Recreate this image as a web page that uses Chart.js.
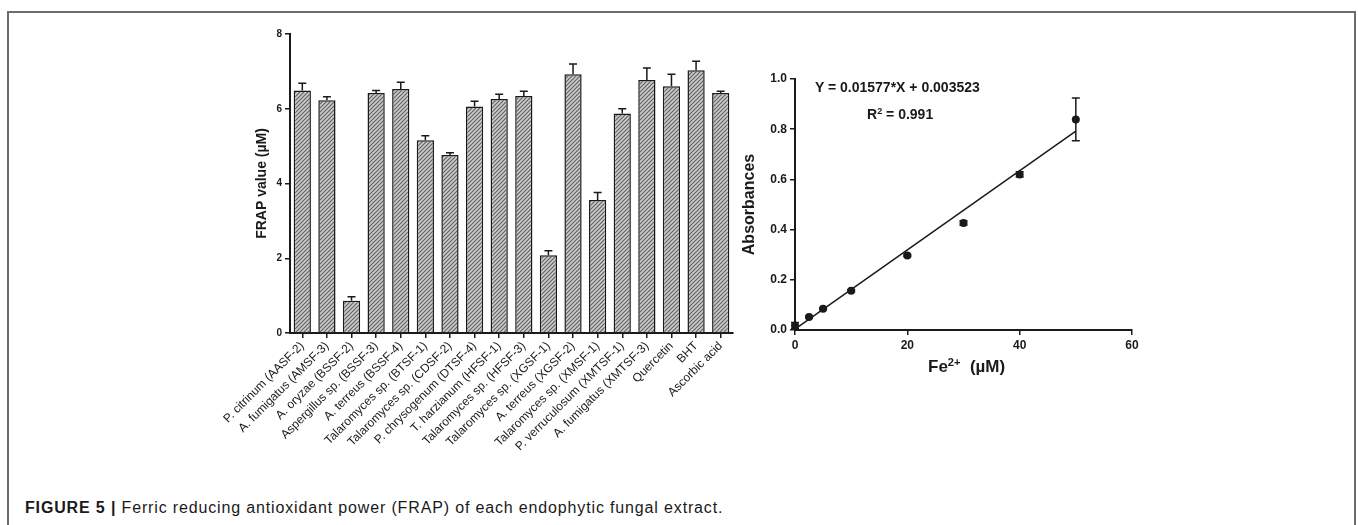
<!DOCTYPE html>
<html>
<head>
<meta charset="utf-8">
<script src="https://cdn.jsdelivr.net/npm/chart.js@4.4.1/dist/chart.umd.min.js"></script>
<style>
	body {
		margin: 0;
		width: 1358px;
		height: 525px;
		overflow: hidden;
		position: relative;
		background: #fff;
		font-family: 'Liberation Sans', Arial, sans-serif;
		color: #1a1a1a;
	}
	#frame {
		position: absolute;
		left: 7px;
		top: 11px;
		width: 1345px;
		height: 600px;
		border: 2px solid #6c6c6c;
	}
	#barWrap {
		position: absolute;
		left: 180px;
		top: 20px;
		width: 580px;
		height: 440px;
	}
	#fitWrap {
		position: absolute;
		left: 730px;
		top: 40px;
		width: 430px;
		height: 360px;
	}
	.note {
		position: absolute;
		font-weight: bold;
		white-space: nowrap;
		line-height: 1;
	}
	.note sup {
		font-size: 0.65em;
		vertical-align: 0.55em;
		line-height: 0;
	}
	#caption {
		position: absolute;
		left: 25px;
		top: 500px;
		font-size: 16px;
		letter-spacing: 0.85px;
		white-space: nowrap;
		line-height: 1;
	}
</style>
</head>
<body>
<div id="frame"></div>
<div id="barWrap"><canvas id="frapBars" width="580" height="440"></canvas></div>
<div id="fitWrap"><canvas id="fe2Curve" width="430" height="360"></canvas></div>
<div class="note" style="left:815px;top:80px;font-size:14px;">Y = 0.01577*X + 0.003523</div>
<div class="note" style="left:867px;top:107px;font-size:14px;">R<sup>2</sup> = 0.991</div>
<div class="note" style="left:928px;top:358px;font-size:17px;">Fe<sup>2+</sup>&nbsp; (µM)</div>
<div id="caption"><b>FIGURE 5 |</b> Ferric reducing antioxidant power (FRAP) of each endophytic fungal extract.</div>

<script>
const extractLabels = [
	'P. citrinum (AASF-2)',
	'A. fumigatus (AMSF-3)',
	'A. oryzae (BSSF-2)',
	'Aspergillus sp. (BSSF-3)',
	'A. terreus (BSSF-4)',
	'Talaromyces sp. (BTSF-1)',
	'Talaromyces sp. (CDSF-2)',
	'P. chrysogenum (DTSF-4)',
	'T. harzianum (HFSF-1)',
	'Talaromyces sp. (HFSF-3)',
	'Talaromyces sp. (XGSF-1)',
	'A. terreus (XGSF-2)',
	'Talaromyces sp. (XMSF-1)',
	'P. verruculosum (XMTSF-1)',
	'A. fumigatus (XMTSF-3)',
	'Quercetin',
	'BHT',
	'Ascorbic acid',
];
const frapValues = [6.49, 6.23, 0.86, 6.42, 6.53, 5.16, 4.76, 6.06, 6.26, 6.34, 2.08, 6.92, 3.56, 5.87, 6.77, 6.60, 7.03, 6.42];
const frapErrors = [0.19, 0.09, 0.11, 0.07, 0.18, 0.12, 0.06, 0.14, 0.13, 0.13, 0.12, 0.28, 0.20, 0.13, 0.32, 0.32, 0.24, 0.05];
const frapTicks = [0, 2, 4, 6, 8];

const fe2Conc = [0, 2.5, 5, 10, 20, 30, 40, 50];
const absorbance = [0.018, 0.052, 0.085, 0.156, 0.297, 0.426, 0.62, 0.839];
const absorbanceErrors = [0.012, 0.003, 0.003, 0.004, 0.004, 0.009, 0.01, 0.085];
const absTicks = [0, 0.2, 0.4, 0.6, 0.8, 1.0];
const concTicks = [0, 20, 40, 60];
const fitSlope = 0.01577;
const fitIntercept = 0.003523;

const fontFamily = "'Liberation Sans', Arial, sans-serif";
const ink = '#1a1a1a';

const makeHatch = () => {
	const tile = document.createElement('canvas');
	tile.width = 4;
	tile.height = 4;
	const c = tile.getContext('2d');
	c.fillStyle = '#cdcdcd';
	c.fillRect(0, 0, 4, 4);
	c.strokeStyle = '#626262';
	c.lineWidth = 1.2;
	c.beginPath();
	c.moveTo(-1, 5);
	c.lineTo(5, -1);
	c.moveTo(-1, 1);
	c.lineTo(1, -1);
	c.moveTo(3, 5);
	c.lineTo(5, 3);
	c.stroke();
	return document.getElementById('frapBars').getContext('2d').createPattern(tile, 'repeat');
};

// vertical error bars drawn through the chart's own scales
const errorBarPlugin = {
	id: 'errorBars',
	afterDatasetsDraw(chart, args, opts) {
		const { ctx, scales } = chart;
		const meta = chart.getDatasetMeta(opts.datasetIndex || 0);
		const values = opts.values;
		const errors = opts.errors;
		ctx.save();
		ctx.strokeStyle = ink;
		ctx.lineWidth = 1.5;
		meta.data.forEach((el, i) => {
			const x = el.x;
			const yTop = scales.y.getPixelForValue(values[i] + errors[i]);
			const yBottom = opts.upperOnly ? scales.y.getPixelForValue(values[i]) : scales.y.getPixelForValue(values[i] - errors[i]);
			ctx.beginPath();
			ctx.moveTo(x, yBottom);
			ctx.lineTo(x, yTop);
			ctx.moveTo(x - opts.cap, yTop);
			ctx.lineTo(x + opts.cap, yTop);
			if (!opts.upperOnly) {
				ctx.moveTo(x - opts.cap, yBottom);
				ctx.lineTo(x + opts.cap, yBottom);
			}
			ctx.stroke();
		});
		ctx.restore();
	},
};

const axisBase = (size) => ({
	color: ink,
	font: { family: fontFamily, size, weight: 'bold' },
});

new Chart(document.getElementById('frapBars'), {
	type: 'bar',
	data: {
		labels: extractLabels,
		datasets: [
			{
				data: frapValues,
				backgroundColor: makeHatch(),
				borderColor: ink,
				borderWidth: 1.5,
				barPercentage: 0.7,
				categoryPercentage: 1,
			},
		],
	},
	options: {
		responsive: false,
		animation: false,
		layout: { padding: { left: 70, top: 14, right: 27, bottom: 0 } },
		plugins: {
			legend: { display: false },
			tooltip: { enabled: false },
			errorBars: { values: frapValues, errors: frapErrors, cap: 4, upperOnly: true },
		},
		scales: {
			x: {
				offset: true,
				ticks: {
					color: ink,
					font: { family: fontFamily, size: 12 },
					maxRotation: 45,
					minRotation: 45,
					autoSkip: false,
					padding: 1,
				},
				grid: { offset: false, drawOnChartArea: false, color: ink, lineWidth: 1.5, tickLength: 5 },
				border: { color: ink, width: 2 },
				afterFit: (s) => {
					s.height = 127;
				},
			},
			y: {
				min: 0,
				max: 8,
				afterBuildTicks: (s) => {
					s.ticks = frapTicks.map((v) => ({ value: v }));
				},
				ticks: { ...axisBase(10), padding: 3 },
				grid: { drawOnChartArea: false, color: ink, lineWidth: 1.5, tickLength: 5 },
				border: { color: ink, width: 2 },
				title: {
					display: true,
					text: 'FRAP value (µM)',
					...axisBase(14),
					padding: { top: 4, bottom: 0 },
				},
				afterFit: (s) => {
					s.width = 40;
				},
			},
		},
	},
	plugins: [errorBarPlugin],
});

const fitLine = [0, fe2Conc[fe2Conc.length - 1]].map((x) => ({ x, y: fitSlope * x + fitIntercept }));

new Chart(document.getElementById('fe2Curve'), {
	type: 'scatter',
	data: {
		datasets: [
			{
				data: fe2Conc.map((x, i) => ({ x, y: absorbance[i] })),
				pointRadius: 4,
				pointBackgroundColor: ink,
				pointBorderWidth: 0,
				clip: false,
			},
			{
				type: 'line',
				data: fitLine,
				borderColor: ink,
				borderWidth: 1.5,
				pointRadius: 0,
				clip: false,
			},
		],
	},
	options: {
		responsive: false,
		animation: false,
		layout: { padding: { left: 6, top: 39, right: 28, bottom: 0 } },
		plugins: {
			legend: { display: false },
			tooltip: { enabled: false },
			errorBars: { datasetIndex: 0, values: absorbance, errors: absorbanceErrors, cap: 4, upperOnly: false },
		},
		scales: {
			x: {
				type: 'linear',
				min: 0,
				max: 60,
				afterBuildTicks: (s) => {
					s.ticks = concTicks.map((v) => ({ value: v }));
				},
				ticks: { ...axisBase(12), padding: 3 },
				grid: { drawOnChartArea: false, color: ink, lineWidth: 1.5, tickLength: 5 },
				border: { color: ink, width: 2 },
				afterFit: (s) => {
					s.height = 70;
				},
			},
			y: {
				min: 0,
				max: 1,
				afterBuildTicks: (s) => {
					s.ticks = absTicks.map((v) => ({ value: v }));
				},
				ticks: { ...axisBase(12), padding: 3, callback: (v) => Number(v).toFixed(1) },
				grid: { drawOnChartArea: false, color: ink, lineWidth: 1.5, tickLength: 5 },
				border: { color: ink, width: 2 },
				title: {
					display: true,
					text: 'Absorbances',
					...axisBase(16),
					padding: { top: 4, bottom: 0 },
				},
				afterFit: (s) => {
					s.width = 59;
				},
			},
		},
	},
	plugins: [errorBarPlugin],
});
</script>
</body>
</html>
